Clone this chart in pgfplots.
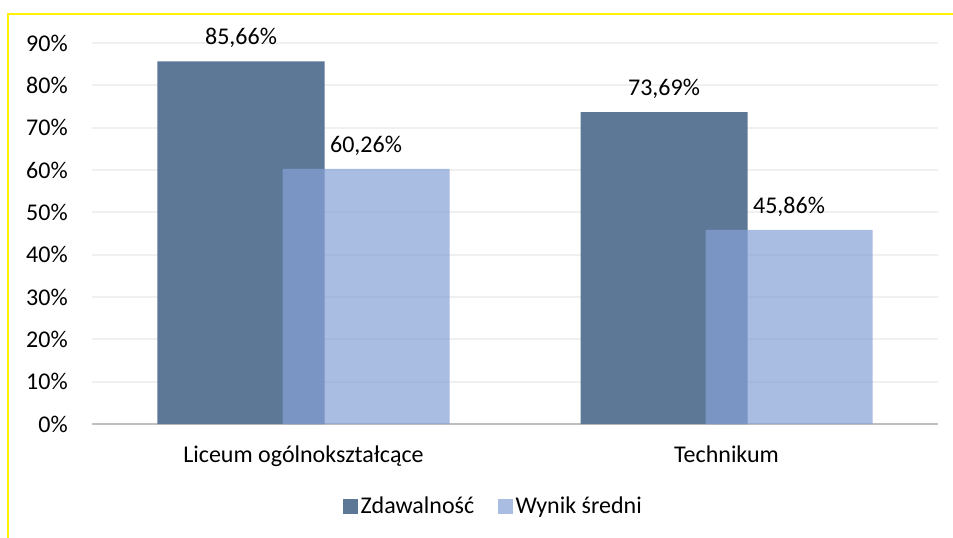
\documentclass[border=0pt]{standalone}
\usepackage{pgfplots}
\pgfplotsset{compat=1.18}
\usepackage{fontspec}
\setmainfont{Carlito}
\definecolor{dark}{RGB}{93,120,150}
\definecolor{light}{RGB}{134,161,214}
\definecolor{gridc}{RGB}{240,240,240}
\definecolor{axc}{RGB}{191,191,191}
\newcommand{\lbl}{\fontsize{18pt}{21pt}\selectfont}
\begin{document}
\lbl
\begin{tikzpicture}
\useasboundingbox (-69pt,-84.75pt) rectangle (645.75pt,318pt);
\draw[yellow, line width=1.5pt] (-63pt,-90pt) -- (-63pt,307.5pt) -- (650pt,307.5pt);
\begin{axis}[
  at={(0pt,0pt)}, anchor=south west,
  scale only axis,
  width=634.5pt, height=285.75pt,
  xmin=-0.5, xmax=1.5, ymin=0, ymax=0.9,
  ybar, bar width=125.25pt,
  axis lines*=left,
  y axis line style={draw=none},
  x axis line style={axc, line width=1.5pt, -},
  xtick={0,1}, xticklabels={Liceum ogólnokształcące, Technikum},
  xtick style={draw=none},
  x tick label style={yshift=-6pt, font=\lbl},
  ytick={0,0.1,...,0.9},
  yticklabels={0\%,10\%,20\%,30\%,40\%,50\%,60\%,70\%,80\%,90\%},
  ymajorgrids, grid style={gridc, line width=1.5pt},
  ytick style={draw=none},
  y tick label style={anchor=east, xshift=-12pt, font=\lbl},
  point meta=explicit symbolic,
  nodes near coords,
  every node near coord/.append style={anchor=south, yshift=4pt, font=\lbl, text opacity=1},
  legend style={at={(0.475,-0.176)}, anchor=north, draw=none, legend columns=2,
    /tikz/every even column/.append style={column sep=16pt}, font=\lbl},
  legend image code/.code={\fill[#1] (0pt,-5.5pt) rectangle (11pt,5.5pt);},
  clip=false,
]
\addplot[fill=dark, draw=none, bar shift=-46.875pt] coordinates {(0,0.8566) [85,66\%] (1,0.7369) [73,69\%]};
\addplot[fill=light, fill opacity=0.71, draw=none, bar shift=46.875pt] coordinates {(0,0.6026) [60,26\%] (1,0.4586) [45,86\%]};
\legend{Zdawalność, Wynik średni}
\end{axis}
\end{tikzpicture}
\end{document}
